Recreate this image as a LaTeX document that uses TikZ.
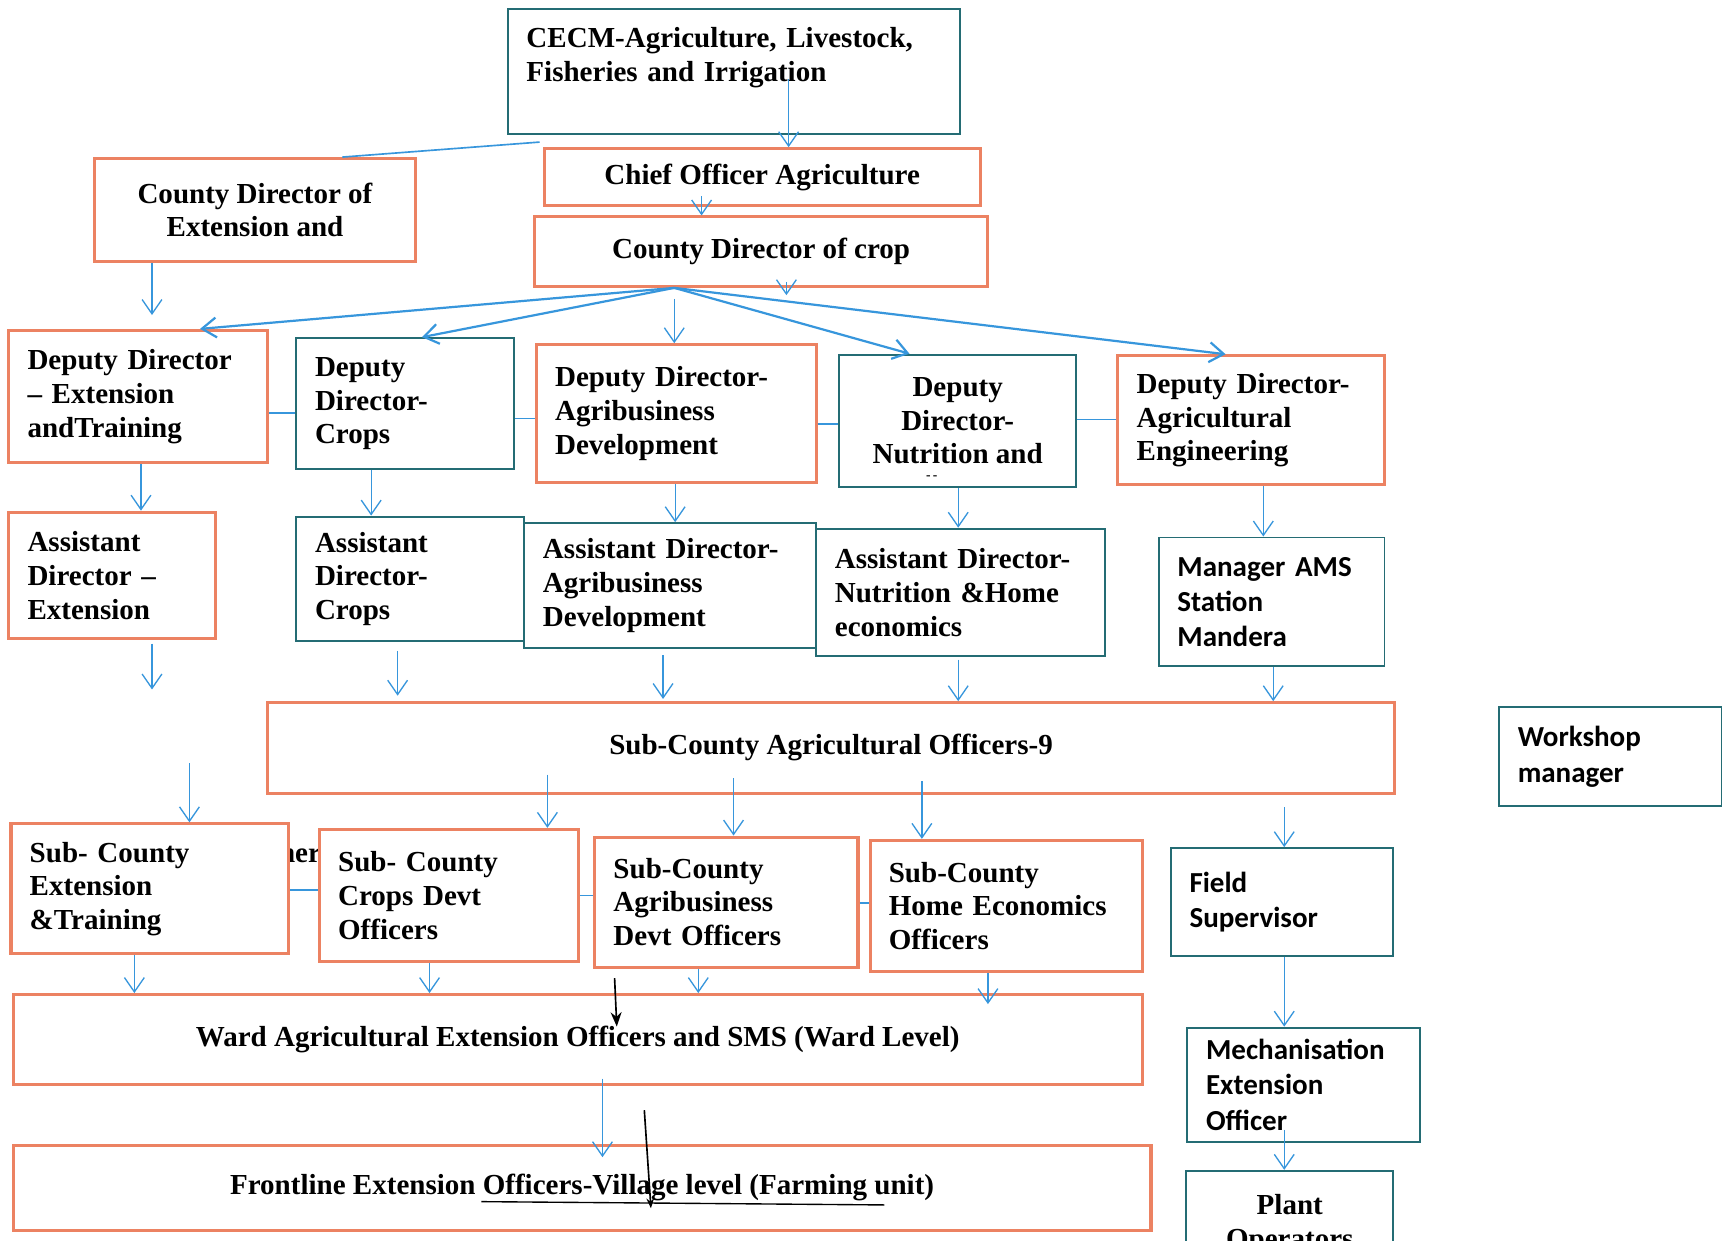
\documentclass[tikz,border=0pt]{standalone}
\usepackage{fontspec}
\setmainfont{Liberation Serif}
\newfontfamily\calib{Carlito}
\usetikzlibrary{calc,arrows.meta}

\definecolor{boxorange}{RGB}{236,130,98}
\definecolor{boxteal}{RGB}{36,108,116}
\definecolor{arrblue}{RGB}{55,150,220}

\tikzset{
	orbox/.style={draw=boxorange,line width=0.55mm,fill=white,inner xsep=3.4mm,inner ysep=0.4mm,font=\fontsize{15}{17.4}\selectfont\bfseries},
	tlbox/.style={draw=boxteal,line width=0.35mm,fill=white,inner xsep=3.4mm,inner ysep=0.4mm,font=\fontsize{15}{17.4}\selectfont\bfseries},
	cal/.style={font=\fontsize{15}{18.2}\selectfont\calib\bfseries},
	arr/.style={draw=arrblue,line width=0.24mm,-{Straight Barb[length=2.6mm,width=3.6mm]}},
	fan/.style={arr,line width=0.4mm},
	link/.style={draw=arrblue,line width=0.3mm},
	blk/.style={draw=black,line width=0.3mm,-{Stealth[length=2.6mm,width=2mm]}}
}

\begin{document}
\begin{tikzpicture}[x=0.2mm,y=-0.2mm]
				\useasboundingbox (0,0) rectangle (1568,1126);
				\fill[white] (0,0) rectangle (1568,1126);
				\clip (0,0) rectangle (1568,1126);
				
				\node[tlbox,minimum width=82.2mm,minimum height=22.8mm,text width=75.4mm,align=left] (cecm) at (666.5,65) {CECM-Agriculture, Livestock,\\Fisheries and Irrigation\\\mbox{}};
				\node[orbox,minimum width=79.2mm,minimum height=10.4mm] (chief) at (692,161) {Chief Officer Agriculture};
				\node[orbox,minimum width=82.4mm,minimum height=12.6mm] (cdcrop) at (691,228.5) {County Director of crop};
				\node[orbox,minimum width=58.2mm,minimum height=18.6mm,align=center] (cdext) at (231.5,190.5) {County Director of\\Extension and};
				
				\node[orbox,minimum width=47mm,minimum height=24mm,text width=40.2mm,align=left] (ddext) at (125.5,360) {Deputy Director\\– Extension\\andTraining};
				\node[tlbox,minimum width=39.6mm,minimum height=23.8mm,text width=32.8mm,align=left] (ddcrops) at (368,366.5) {Deputy\\Director-\\Crops};
				\node[orbox,minimum width=50.8mm,minimum height=25mm,text width=44mm,align=left] (ddagri) at (614,375.5) {Deputy Director-\\Agribusiness\\Development};
				\node[tlbox,minimum width=43mm,minimum height=24mm,align=center] (ddnutr) at (869.5,382) {Deputy\\Director-\\Nutrition and};
				\node[font=\fontsize{7}{7}\selectfont\bfseries,inner sep=0pt] (ddnutrcut) at (846,434) {-\,-};
				\node[orbox,minimum width=48.4mm,minimum height=23.4mm,text width=41.6mm,align=left] (ddeng) at (1136,381.5) {Deputy Director-\\Agricultural\\Engineering};
				
				\node[orbox,minimum width=37.6mm,minimum height=23mm,text width=30.8mm,align=left] (adext) at (102,522.5) {Assistant\\Director –\\Extension};
				\node[tlbox,minimum width=41.4mm,minimum height=22.6mm,text width=34.6mm,align=left] (adcrops) at (372.5,525.5) {Assistant\\Director-\\Crops};
				\node[tlbox,minimum width=53mm,minimum height=22.6mm,text width=46.2mm,align=left] (adagri) at (608.5,531.5) {Assistant Director-\\Agribusiness\\Development};
				\node[tlbox,minimum width=52.4mm,minimum height=23.2mm,text width=45.6mm,align=left] (adnutr) at (872,538) {Assistant Director-\\Nutrition \&Home\\economics};
				\node[tlbox,cal,minimum width=41mm,minimum height=23.4mm,text width=34.2mm,align=left] (mgrams) at (1154.5,546.5) {Manager AMS\\Station\\Mandera};
				
				\node[orbox,minimum width=204.6mm,minimum height=16.4mm] (scao) at (754.5,679) {Sub-County Agricultural Officers-9};
				\node[tlbox,cal,minimum width=40.4mm,minimum height=18mm,text width=33.6mm,align=left] (wshop) at (1462,687) {Workshop\\manager};
				
				\node[font=\fontsize{15}{17.4}\selectfont\bfseries,inner sep=0pt,anchor=west] (hidden) at (253,774) {her};
				\node[orbox,minimum width=50.4mm,minimum height=23.6mm,text width=43.6mm,align=left] (scext) at (136,807) {Sub- County\\Extension\\\&Training};
				\node[orbox,minimum width=47mm,minimum height=24mm,text width=40.2mm,align=left] (sccrops) at (407.5,813) {Sub- County\\Crops Devt\\Officers};
				\node[orbox,minimum width=47.8mm,minimum height=23.6mm,text width=41mm,align=left] (scagri) at (659.5,819) {Sub-County\\Agribusiness\\Devt Officers};
				\node[orbox,minimum width=49.4mm,minimum height=23.8mm,text width=42.6mm,align=left] (schome) at (913.5,822.5) {Sub-County\\Home Economics\\Officers};
				\node[tlbox,cal,minimum width=40.4mm,minimum height=19.6mm,text width=33.6mm,align=left] (fieldsup) at (1164,819) {Field\\Supervisor};
				
				\node[orbox,minimum width=205mm,minimum height=16.4mm] (ward) at (524.5,944) {Ward Agricultural Extension Officers and SMS (Ward Level)};
				\node[tlbox,cal,minimum width=42.2mm,minimum height=20.8mm,text width=35.4mm,align=left] (mech) at (1183.5,985) {Mechanisation\\Extension\\Officer};
				
				\node[orbox,minimum width=206.6mm,minimum height=15.4mm] (front) at (528.5,1078.5) {Frontline Extension Officers-Village level (Farming unit)};
				\node[tlbox,minimum width=37.6mm,minimum height=19.4mm,align=center] (plant) at (1171,1111.5) {Plant\\Operators};
				\draw[line width=0.25mm] (437,1091) -- (803,1094);
				
				\coordinate (c0) at (716,72);
				\draw[arr] (c0) -- (c0 |- chief.north);
				\coordinate (c1) at (490,129);
				\draw[link] (c1) -- ($(cdext.north west)!0.77!(cdext.north east)$);
				\draw[arr,shorten <=-2mm] (chief.south -| 637,0) -- (cdcrop.north -| 637,0);
				\coordinate (c2) at (714,268);
				\draw[arr,shorten <=-1mm] (cdcrop.south -| c2) -- (c2);
				
				\coordinate (hub) at ($(cdcrop.south west)!0.31!(cdcrop.south east)$);
				\draw[fan] (hub) -- ($(ddext.north west)!0.736!(ddext.north east)$);
				\draw[fan] (hub) -- ($(ddcrops.north west)!0.576!(ddcrops.north east)$);
				\draw[arr,shorten <=2mm] (hub) -- (hub |- ddagri.north);
				\draw[fan] (hub) -- ($(ddnutr.north west)!0.298!(ddnutr.north east)$);
				\draw[fan] (hub) -- ($(ddeng.north west)!0.405!(ddeng.north east)$);
				\coordinate (c3) at (138,286);
				\draw[arr] (cdext.south -| c3) -- (c3);
				
				\draw[link] (ddext.east |- 0,375) -- (ddcrops.west |- 0,375);
				\draw[link] (ddcrops.east |- 0,380) -- (ddagri.west |- 0,380);
				\draw[link] (ddagri.east |- 0,385) -- (ddnutr.west |- 0,385);
				\draw[link] (ddnutr.east |- 0,381) -- (ddeng.west |- 0,381);
				
				\draw[arr] (ddext.south -| 128,0) -- (adext.north -| 128,0);
				\draw[arr] (ddcrops.south -| 337,0) -- (adcrops.north -| 337,0);
				\draw[arr] (ddagri.south -| 613,0) -- (adagri.north -| 613,0);
				\draw[arr] (ddnutr.south -| 870,0) -- (adnutr.north -| 870,0);
				\draw[arr] (ddeng.south -| 1147,0) -- (mgrams.north -| 1147,0);
				
				\coordinate (c4) at (138,626);
				\draw[arr,shorten <=0.6mm] (adext.south -| c4) -- (c4);
				\draw[arr,shorten <=1.6mm,shorten >=1mm] (adcrops.south -| 361,0) -- (scao.north -| 361,0);
				\draw[arr,shorten <=1.2mm,shorten >=0.4mm] (adagri.south -| 602,0) -- (scao.north -| 602,0);
				\draw[arr,shorten <=0.4mm] (adnutr.south -| 870,0) -- (scao.north -| 870,0);
				\draw[arr] (mgrams.south -| 1156,0) -- (scao.north -| 1156,0);
				
				\draw[arr,shorten <=-3.6mm] (scao.south -| 497,0) -- (sccrops.north -| 497,0);
				\draw[arr,shorten <=-3mm] (scao.south -| 666,0) -- (scagri.north -| 666,0);
				\draw[arr,shorten <=-2.4mm] (scao.south -| 837,0) -- (schome.north -| 837,0);
				\coordinate (c5) at (172,693);
				\draw[arr] (c5) -- (c5 |- scext.north);
				\coordinate (c6) at (1166,733);
				\draw[arr] (c6) -- (c6 |- fieldsup.north);
				
				\draw[link] (scext.east |- 0,808) -- (sccrops.west |- 0,808);
				\draw[link] (sccrops.east |- 0,813) -- (scagri.west |- 0,813);
				\draw[link] (scagri.east |- 0,820) -- (schome.west |- 0,820);
				
				\draw[arr] (scext.south -| 122,0) -- (ward.north -| 122,0);
				\draw[arr] (sccrops.south -| 390,0) -- (ward.north -| 390,0);
				\draw[arr] (scagri.south -| 634,0) -- (ward.north -| 634,0);
				\draw[arr,shorten >=-2mm] (schome.south -| 897,0) -- (ward.north -| 897,0);
				\coordinate (b1) at (558,888);
				\coordinate (b2) at (560,932);
				\draw[blk] (b1) -- (b2);
				\draw[arr] (fieldsup.south -| 1166,0) -- (mech.north -| 1166,0);
				
				\draw[arr,shorten <=-1.4mm,shorten >=-2.4mm] (ward.south -| 547,0) -- (front.north -| 547,0);
				\coordinate (b3) at (585,1008);
				\coordinate (b4) at (591,1097);
				\draw[blk,-{Stealth[length=1.8mm,width=1.4mm]}] (b3) -- (b4);
				\draw[arr,shorten <=-2.4mm] (mech.south -| 1166,0) -- (plant.north -| 1166,0);
			\end{tikzpicture}
\end{document}
